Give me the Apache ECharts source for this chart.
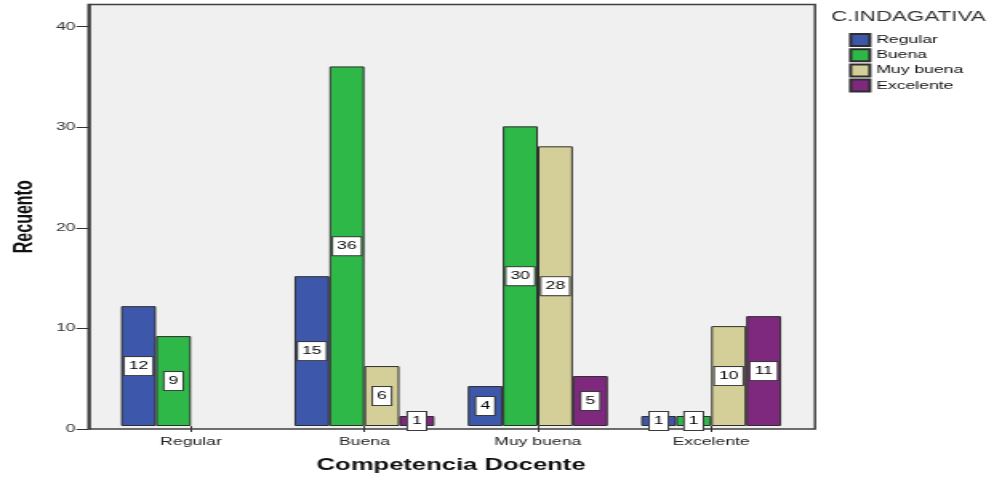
<!DOCTYPE html>
<html>
<head>
<meta charset="utf-8">
<script src="https://cdn.jsdelivr.net/npm/echarts@6/dist/echarts.min.js"></script>
<style>
  html, body { margin: 0; padding: 0; background: #ffffff; overflow: hidden; }
  #wrap { width: 994px; height: 479px; overflow: hidden; }
  /* The chart is drawn narrow and widened horizontally, giving the wide lettering of the original export */
  #chart { width: 621px; height: 479px; transform: scaleX(1.6006); transform-origin: 0 0; }
</style>
</head>
<body>
<div id="wrap"><div id="chart"></div></div>
<script>
// Competencia Docente (x) by C.INDAGATIVA (series), counts
const categories = ['Regular', 'Buena', 'Muy buena', 'Excelente'];
const seriesNames = ['Regular', 'Buena', 'Muy buena', 'Excelente'];
const regularValues   = [12, 15, 4, 1];
const buenaValues     = [9, 36, 30, 1];
const muyBuenaValues  = [null, 6, 28, 10];
const excelenteValues = [null, 1, 5, 11];
const yTicks = [0, 10, 20, 30, 40];

const colors = ['#3d57ab', '#2eb848', '#d4cf98', '#7e287e'];
const seriesValues = [regularValues, buenaValues, muyBuenaValues, excelenteValues];

// horizontal stretch of the drawing; x positions are given in page pixels and divided by it
const S = 994 / 621;
const X = v => v / S;

const chart = echarts.init(document.getElementById('chart'), null, { width: 621, height: 479 });

const frameLeft = X(84), frameRight = X(815);
const bandW = X(173.4);
const dataLeft = X(191) - bandW / 2;
const plotTop = 4.5, plotBottom = 429;

const valueLabel = {
  show: true,
  position: 'inside',
  color: '#000',
  fontFamily: 'Liberation Sans, Arial, sans-serif',
  fontSize: 11,
  lineHeight: 12,
  backgroundColor: '#ffffff',
  borderColor: '#3a3a3a',
  borderWidth: 1,
  padding: [3, 2.5, 3, 2.5]
};

const option = {
  animation: false,
  title: {
    text: 'C.INDAGATIVA',
    left: X(831),
    top: 10,
    padding: 0,
    textStyle: { fontFamily: 'Liberation Sans, Arial, sans-serif', fontSize: 14, fontWeight: 'normal', color: '#333' }
  },
  legend: {
    orient: 'vertical',
    left: X(849),
    top: 33,
    padding: 0,
    icon: 'rect',
    itemWidth: 12,
    itemHeight: 12,
    itemGap: 1.2,
    data: seriesNames,
    textStyle: { fontFamily: 'Liberation Sans, Arial, sans-serif', fontSize: 11, color: '#111', padding: [0, 0, 0, -1] }
  },
  grid: [
    {
      left: frameLeft, top: plotTop, width: frameRight - frameLeft, height: plotBottom - plotTop,
      show: true, backgroundColor: '#f0f0f0', borderColor: '#404040', borderWidth: 1.5
    },
    {
      left: dataLeft, top: plotTop, width: bandW * categories.length, height: plotBottom - plotTop
    }
  ],
  xAxis: [
    { gridIndex: 0, type: 'value', show: false },
    {
      gridIndex: 1,
      type: 'category',
      data: categories,
      axisLine: { show: false },
      axisTick: { show: true, alignWithLabel: true, length: 6, lineStyle: { color: '#333', width: 1 } },
      axisLabel: { margin: 10, fontFamily: 'Liberation Sans, Arial, sans-serif', fontSize: 11, color: '#222' },
      name: 'Competencia Docente',
      nameLocation: 'middle',
      nameGap: 32,
      nameTextStyle: { fontFamily: 'Liberation Sans, Arial, sans-serif', fontSize: 16, fontWeight: 'bold', color: '#111' }
    }
  ],
  yAxis: [
    {
      gridIndex: 0,
      type: 'value',
      min: 0,
      max: 42.2,
      interval: 10,
      axisLine: { show: true, lineStyle: { color: '#333', width: 1.5 } },
      axisTick: { show: true, length: X(12), lineStyle: { color: '#333', width: 1 } },
      splitLine: { show: false },
      axisLabel: {
        margin: X(13),
        showMaxLabel: false,
        fontFamily: 'Liberation Sans, Arial, sans-serif',
        fontSize: 11,
        color: '#333',
        formatter: v => (yTicks.indexOf(v) >= 0 ? String(v) : '')
      },
      name: 'Recuento',
      nameLocation: 'middle',
      nameRotate: 90,
      nameGap: 31,
      nameTextStyle: { fontFamily: 'Liberation Sans, Arial, sans-serif', fontSize: 16, fontWeight: 'bold', color: '#111' }
    },
    { gridIndex: 1, type: 'value', min: 0, max: 42.2, interval: 10, show: false, splitLine: { show: false } }
  ],
  series: seriesNames.map((name, i) => ({
    name: name,
    type: 'bar',
    xAxisIndex: 1,
    yAxisIndex: 1,
    data: seriesValues[i],
    barWidth: X(35),
    barGap: '0%',
    itemStyle: { color: colors[i], borderColor: '#2e2e2e', borderWidth: 1 },
    label: valueLabel
  }))
};

chart.setOption(option);
</script>
</body>
</html>
